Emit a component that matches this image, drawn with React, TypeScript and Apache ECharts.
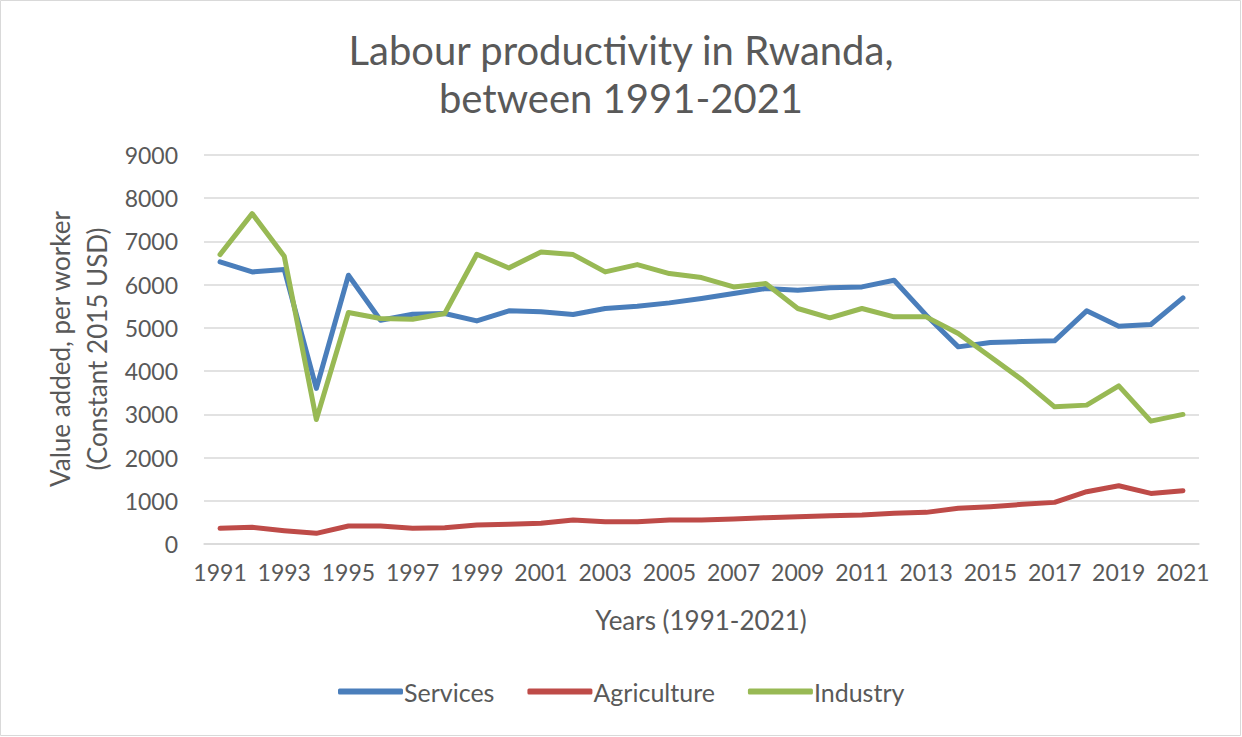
import React, { useEffect, useRef } from "react";
import * as echarts from "echarts";

const years = [
  "1991", "1992", "1993", "1994", "1995", "1996", "1997", "1998", "1999", "2000",
  "2001", "2002", "2003", "2004", "2005", "2006", "2007", "2008", "2009", "2010",
  "2011", "2012", "2013", "2014", "2015", "2016", "2017", "2018", "2019", "2020", "2021",
];

const services = [
  6526, 6295, 6350, 3599, 6218, 5178, 5317, 5332, 5162, 5394,
  5371, 5309, 5448, 5502, 5579, 5679, 5795, 5910, 5872, 5926,
  5948, 6103, 5294, 4561, 4662, 4685, 4700, 5394, 5039, 5078, 5694,
];

const agriculture = [
  362, 385, 308, 247, 416, 416, 362, 377, 439, 455,
  478, 555, 516, 516, 555, 555, 578, 609, 632, 655,
  670, 709, 732, 825, 863, 917, 963, 1210, 1348, 1171, 1233,
];

const industry = [
  6696, 7644, 6657, 2882, 5355, 5217, 5201, 5332, 6703, 6387,
  6757, 6696, 6295, 6465, 6257, 6164, 5948, 6026, 5448, 5232,
  5448, 5255, 5255, 4870, 4330, 3791, 3174, 3213, 3660, 2843, 2998,
];

const seriesNames = ["Services", "Agriculture", "Industry"];
const seriesColors = ["#4a7ebb", "#be4b48", "#98b954"];

const titleText = "Labour productivity in Rwanda,\nbetween 1991-2021";
const yAxisTitle = "Value added, per worker\n(Constant 2015 USD)";
const xAxisTitle = "Years (1991-2021)";

const FONT = "Lato, 'Open Sans', sans-serif";
const TEXT = "#595959";

export default function App() {
  const ref = useRef<HTMLDivElement>(null);

  useEffect(() => {
    if (!ref.current) return;
    const chart = echarts.init(ref.current, undefined, { renderer: "svg" });
    const data = [services, agriculture, industry];
    chart.setOption({
      animation: false,
      backgroundColor: "#ffffff",
      textStyle: { fontFamily: FONT },
      title: {
        text: titleText,
        left: "center",
        top: 21,
        textStyle: {
          fontFamily: FONT,
          fontSize: 40,
          fontWeight: "normal",
          color: TEXT,
          lineHeight: 48,
        },
      },
      grid: { left: 204, right: 43, top: 155, bottom: 193 },
      legend: {
        data: seriesNames,
        top: 679,
        left: 338,
        padding: 0,
        icon: "roundRect",
        itemWidth: 65,
        itemHeight: 6,
        itemGap: 33,
        textStyle: { fontFamily: FONT, fontSize: 25, color: TEXT, padding: [0, 0, 0, -4] },
      },
      xAxis: {
        type: "category",
        data: years,
        boundaryGap: true,
        axisLine: { show: true, lineStyle: { color: "#d9d9d9", width: 1.5 } },
        axisTick: { show: false },
        axisLabel: {
          interval: 1,
          margin: 16,
          fontFamily: FONT,
          fontSize: 23,
          color: TEXT,
        },
      },
      yAxis: {
        type: "value",
        min: 0,
        max: 9000,
        interval: 1000,
        axisLine: { show: false },
        axisTick: { show: false },
        splitLine: { lineStyle: { color: "#d9d9d9", width: 1.5 } },
        axisLabel: {
          margin: 26,
          fontFamily: FONT,
          fontSize: 23,
          color: TEXT,
          formatter: (v: number) => String(v),
        },
      },
      graphic: [
        {
          type: "rect",
          shape: { x: 0.5, y: 0.5, width: 1240, height: 735 },
          style: { fill: "none", stroke: "#d9d9d9", lineWidth: 1 },
          silent: true,
          z: -1,
        },
        {
          type: "text",
          x: 78,
          y: 349,
          rotation: Math.PI / 2,
          style: {
            text: yAxisTitle,
            fontFamily: FONT,
            fontSize: 26,
            fill: TEXT,
            textAlign: "center",
            textVerticalAlign: "middle",
            lineHeight: 37,
          },
        },
        {
          type: "text",
          x: 701,
          y: 620,
          style: {
            text: xAxisTitle,
            fontFamily: FONT,
            fontSize: 26,
            fill: TEXT,
            textAlign: "center",
            textVerticalAlign: "middle",
          },
        },
      ],
      series: seriesNames.map((name, i) => ({
        name,
        type: "line",
        data: data[i],
        symbol: "none",
        color: seriesColors[i],
        lineStyle: { width: 5, color: seriesColors[i], cap: "round", join: "round" },
      })),
    });
    return () => chart.dispose();
  }, []);

  return (
    <div
      ref={ref}
      style={{ position: "absolute", left: 0, top: 0, width: 1242, height: 737 }}
    />
  );
}
